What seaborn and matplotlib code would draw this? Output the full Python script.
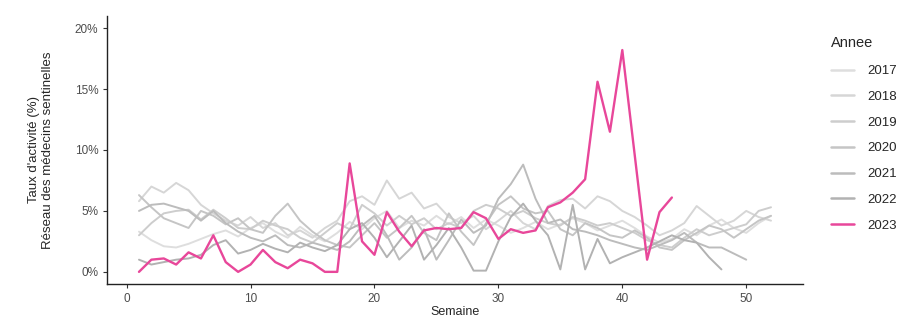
import pandas as pd
import matplotlib
matplotlib.use("Agg")
import matplotlib.pyplot as plt
import seaborn as sns

# weekly activity rate (%) per year
y2017 = [3.3, 2.6, 2.1, 2.0, 2.3, 2.7, 3.1, 3.4, 2.9, 3.6, 4.0, 3.3, 2.8, 3.7, 3.0, 2.5, 3.2, 4.1, 3.5, 4.4,
         5.0, 3.6, 4.2, 3.8, 4.6, 3.9, 4.5, 3.6, 4.3, 3.8, 3.2, 3.6, 4.1, 3.5, 3.9, 4.4, 4.0, 3.4, 3.8, 4.2,
         3.6, 2.9, 2.4, 2.7, 3.5, 3.0, 3.8, 4.3, 3.6, 3.2, 4.0, 4.6]
y2018 = [5.8, 7.0, 6.5, 7.3, 6.7, 5.5, 4.8, 4.2, 3.8, 4.5, 3.6, 4.0, 3.0, 3.4, 2.8, 3.6, 4.2, 5.8, 6.2, 5.5,
         7.5, 6.0, 6.5, 5.2, 5.6, 4.5, 4.0, 4.6, 3.5, 4.2, 5.0, 4.0, 3.5, 5.4, 5.9, 6.0, 5.2, 6.2, 5.8, 5.0,
         4.5, 3.8, 3.0, 3.4, 4.0, 5.4, 4.6, 3.8, 4.2, 5.0, 4.5, 4.2]
y2019 = [3.0, 4.0, 4.8, 5.0, 5.1, 4.3, 5.1, 4.4, 3.6, 3.5, 4.2, 3.8, 3.5, 2.8, 2.4, 3.2, 4.0, 3.5, 5.5, 4.8,
         3.8, 4.6, 3.9, 4.4, 3.5, 4.0, 3.6, 5.0, 5.5, 5.2, 4.6, 5.0, 4.4, 4.0, 3.8, 4.5, 4.2, 3.8, 4.0, 3.6,
         3.2, 2.6, 2.2, 2.0, 2.8, 3.5, 3.0, 3.3, 3.6, 3.9, 5.0, 5.3]
y2020 = [6.3, 5.3, 4.4, 4.0, 3.6, 5.0, 4.6, 3.9, 4.4, 3.5, 3.2, 4.6, 5.6, 4.2, 3.3, 2.6, 2.2, 2.0, 3.0, 4.0,
         2.8, 3.6, 4.6, 3.2, 2.6, 4.8, 3.3, 2.2, 4.0, 5.5, 6.2, 5.2, 4.8, 5.0, 3.5, 3.0, 4.0, 3.6, 3.0, 2.8,
         3.4, 2.8, 2.0, 1.8, 2.6, 3.2, 3.8, 3.5, 2.8, 3.5, 4.2, 4.6]
y2021 = [5.0, 5.5, 5.6, 5.3, 5.0, 4.2, 5.0, 4.0, 3.3, 2.8, 2.5, 3.0, 2.2, 2.0, 2.4, 2.1, 1.8, 2.5, 3.8, 4.6,
         3.0, 1.0, 2.0, 3.5, 1.0, 2.6, 4.3, 3.2, 3.8, 6.0, 7.2, 8.8, 6.0, 4.0, 4.3, 3.5, 3.3, 3.0, 2.6, 2.3,
         2.0, 1.8, 2.2, 2.6, 3.2, 2.4, 2.0, 2.0, 1.5, 1.0]
y2022 = [1.0, 0.6, 0.8, 1.0, 1.1, 1.4, 2.2, 2.6, 1.5, 1.8, 2.3, 1.9, 1.6, 2.4, 2.0, 1.7, 2.2, 3.5, 4.0, 2.8,
         1.2, 2.5, 3.8, 1.0, 2.2, 3.6, 2.0, 0.1, 0.1, 2.5, 4.5, 5.6, 4.2, 3.0, 0.2, 5.5, 0.2, 2.7, 0.7, 1.2,
         1.6, 2.0, 2.5, 3.0, 2.6, 2.4, 1.2, 0.2]
y2023 = [0.0, 1.0, 1.1, 0.6, 1.6, 1.1, 3.0, 0.8, 0.0, 0.6, 1.8, 0.8, 0.3, 1.0, 0.7, 0.0, 0.0, 8.9, 2.5, 1.4,
         4.9, 3.3, 2.1, 3.4, 3.6, 3.5, 3.6, 4.9, 4.4, 2.7, 3.5, 3.2, 3.4, 5.3, 5.7, 6.5, 7.6, 15.6, 11.5, 18.2,
         9.6, 1.0, 4.9, 6.1]

years = ["2017", "2018", "2019", "2020", "2021", "2022", "2023"]
series = [y2017, y2018, y2019, y2020, y2021, y2022, y2023]
colors = ["#DEDEDE", "#D6D6D6", "#CDCDCD", "#C5C5C5", "#BCBCBC", "#B2B2B2", "#E8479A"]

frames = []
for yr, vals in zip(years, series):
    frames.append(pd.DataFrame({"Semaine": range(1, len(vals) + 1), "Taux": vals, "Annee": yr}))
df = pd.concat(frames, ignore_index=True)

sns.set_style("white")
plt.rcParams["font.family"] = ["Liberation Sans", "DejaVu Sans"]

fig, ax = plt.subplots(figsize=(9.1, 3.25), dpi=100)
fig.subplots_adjust(left=0.118, right=0.882, top=0.951, bottom=0.126)

palette = dict(zip(years, colors))
sns.lineplot(data=df, x="Semaine", y="Taux", hue="Annee", palette=palette, ax=ax,
             linewidth=1.4, legend=True)
# the 2023 line is drawn last and a bit thicker
ax.lines[len(years) - 1].set_linewidth(1.7)

ax.set_xlim(-1.55, 54.55)
ax.set_ylim(-1, 21)
ax.set_xticks([0, 10, 20, 30, 40, 50])
ax.set_yticks([0, 5, 10, 15, 20])
ax.set_yticklabels(["0%", "5%", "10%", "15%", "20%"])
ax.tick_params(axis="both", labelsize=8.5, labelcolor="#4D4D4D", color="#333333", length=3,
               width=0.8, direction="out", left=True, bottom=True)
for s in ["top", "right"]:
    ax.spines[s].set_visible(False)
for s in ["left", "bottom"]:
    ax.spines[s].set_color("#222222")
    ax.spines[s].set_linewidth(1.0)

ax.set_xlabel("Semaine", fontsize=9, labelpad=1)
ax.set_ylabel("Taux d'activité (%)\nRéseau des médecins sentinelles", fontsize=9.5, labelpad=15)

handles, labels = ax.get_legend_handles_labels()
leg = ax.legend(handles, labels, title="Annee", loc="upper left", bbox_to_anchor=(1.027, 0.96),
                frameon=False, fontsize=9.5, title_fontsize=10.5, handlelength=1.8,
                labelspacing=1.02, handletextpad=1.0, borderaxespad=0.3)
leg._legend_box.align = "left"
leg._legend_box.sep = 11
for h in leg.get_lines():
    h.set_linewidth(1.8)

fig.savefig("out.png", dpi=100)
